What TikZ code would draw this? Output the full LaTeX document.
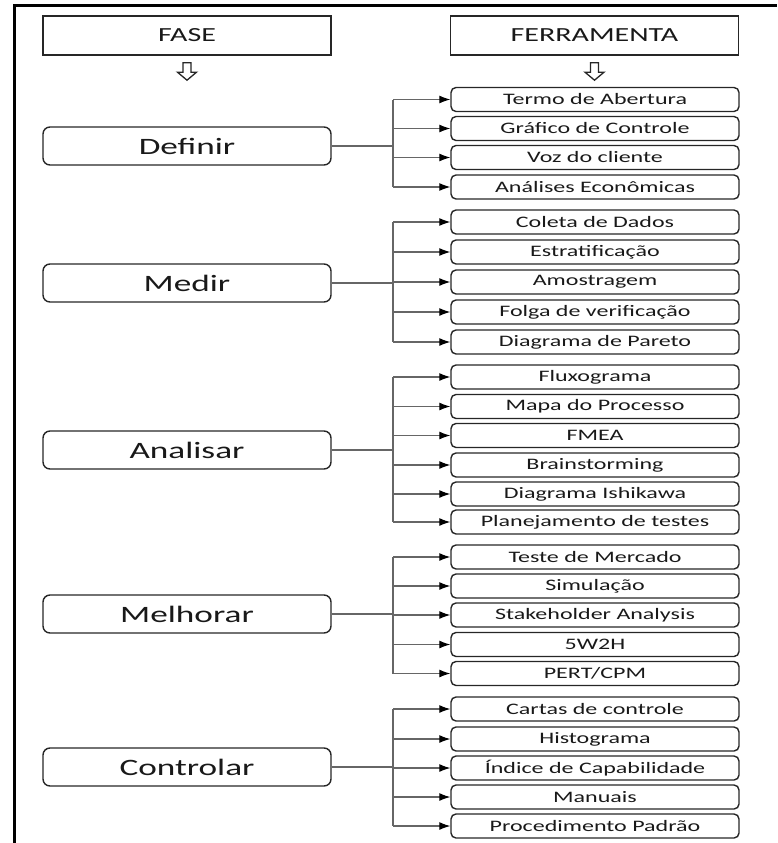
\documentclass[tikz,border=0pt]{standalone}
\usepackage{fontspec}
\setmainfont{Carlito}[FakeStretch=1.5]
\usetikzlibrary{arrows.meta,calc}

\begin{document}
\begin{tikzpicture}[x=1pt,y=-1pt,
  header/.style={draw=black!85, line width=1.4pt, minimum width=288pt,
    minimum height=39pt, inner sep=0pt, text=black!90,
    font=\fontsize{20}{22}\selectfont},
  phasebox/.style={draw=black!85, rounded corners=7pt, line width=1.4pt,
    minimum width=288pt, minimum height=38pt, inner sep=0pt, text=black!90,
    font=\fontsize{23.5}{25}\selectfont},
  toolbox/.style={draw=black!85, rounded corners=5pt, line width=1.4pt,
    minimum width=288pt, minimum height=24pt, inner sep=0pt, text=black!90,
    font=\fontsize{16}{18}\selectfont},
  link/.style={draw=black!60, line width=1.1pt},
  feed/.style={link, -{Latex[length=11pt,width=8pt,color=black]}},
  hollowarrow/.style={draw=black!85, line width=1.3pt, fill=white, line join=miter},
  frameline/.style={draw=black, line width=3.5pt}
]
\useasboundingbox (0,0) rectangle (777,843);

% frame along the top and the left side
\coordinate (frameTL) at (14.5,5.5);
\coordinate (frameTR) at (777,5.5);
\coordinate (frameBL) at (14.5,843);
\draw[frameline] (frameBL) -- (frameTL) -- (frameTR);

% column headers
\node[header] (fase) at (187,35.5) {FASE};
\node[header] (ferr) at (594.5,35.5) {FERRAMENTA};

% hollow down arrows under the headers
\foreach \h in {fase,ferr}{
  \draw[hollowarrow] ($(\h.south)+(-4,7)$) -- ++(8,0) -- ++(0,9.5)
    -- ++(5.5,0) -- ++(-9.5,8) -- ++(-9.5,-8) -- ++(5.5,0) -- cycle;
}

% phases
\node[phasebox] (p1) at (187,146) {Definir};
\node[phasebox] (p2) at (187,283) {Medir};
\node[phasebox] (p3) at (187,450) {Analisar};
\node[phasebox] (p4) at (187,614) {Melhorar};
\node[phasebox] (p5) at (187,767) {Controlar};

% tools of each phase
\node[toolbox] (t11) at (595,99.5) {Termo de Abertura};
\node[toolbox] (t12) at (595,128.5) {Gráfico de Controle};
\node[toolbox] (t13) at (595,157.5) {Voz do cliente};
\node[toolbox] (t14) at (595,187) {Análises Econômicas};

\node[toolbox] (t21) at (595,222) {Coleta de Dados};
\node[toolbox] (t22) at (595,252) {Estratificação};
\node[toolbox] (t23) at (595,282) {Amostragem};
\node[toolbox] (t24) at (595,312) {Folga de verificação};
\node[toolbox] (t25) at (595,342) {Diagrama de Pareto};

\node[toolbox] (t31) at (595,377) {Fluxograma};
\node[toolbox] (t32) at (595,406.5) {Mapa do Processo};
\node[toolbox] (t33) at (595,435.5) {FMEA};
\node[toolbox] (t34) at (595,465) {Brainstorming};
\node[toolbox] (t35) at (595,494) {Diagrama Ishikawa};
\node[toolbox] (t36) at (595,522) {Planejamento de testes};

\node[toolbox] (t41) at (595,557) {Teste de Mercado};
\node[toolbox] (t42) at (595,586) {Simulação};
\node[toolbox] (t43) at (595,615) {Stakeholder Analysis};
\node[toolbox] (t44) at (595,644.5) {5W2H};
\node[toolbox] (t45) at (595,673.5) {PERT/CPM};

\node[toolbox] (t51) at (595,709) {Cartas de controle};
\node[toolbox] (t52) at (595,739) {Histograma};
\node[toolbox] (t53) at (595,768) {Índice de Capabilidade};
\node[toolbox] (t54) at (595,797) {Manuais};
\node[toolbox] (t55) at (595,826) {Procedimento Padrão};

% branching connectors: phase -> bus -> each tool
\foreach \p/\n in {1/4,2/5,3/6,4/5,5/5}{
  \coordinate (bus\p) at (393,0);
  \draw[link] (p\p.east) -- (bus\p |- p\p.east);
  \draw[link] (bus\p |- t\p1.west) -- (bus\p |- t\p\n.west);
  \foreach \k in {1,...,\n}{
    \draw[feed] (bus\p |- t\p\k.west) -- (t\p\k.west);
  }
}
\end{tikzpicture}
\end{document}
